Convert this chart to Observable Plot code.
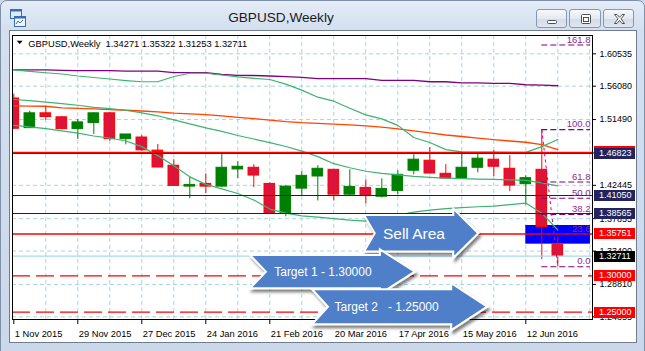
<!DOCTYPE html>
<html><head><meta charset="utf-8">
<script src="https://cdn.jsdelivr.net/npm/d3@7"></script>
<script src="https://cdn.jsdelivr.net/npm/@observablehq/plot@0.6"></script>
<style>
html,body{margin:0;padding:0}
body{width:645px;height:351px;overflow:hidden;position:relative;background:#cbd9ea;font-family:"Liberation Sans",Arial,sans-serif}
#win{position:absolute;left:0;top:0;width:643px;height:352px;border:1px solid #7f90a8;border-radius:7px 7px 0 0;background:linear-gradient(to bottom,#e4ecf7 0px,#d4e0ef 28px,#cad8ea 100%)}
#icon{position:absolute;left:10px;top:9px}
#title{position:absolute;left:0;top:9px;width:562px;text-align:center;font-size:13.6px;color:#1b1b1b;line-height:18px}
.btn{position:absolute;top:9px;height:19px;border:1px solid #8797ad;border-radius:3px;background:linear-gradient(#f7f9fc,#e3e9f1 50%,#d3dce8 51%,#dfe6ef);box-sizing:border-box}
.btn svg{position:absolute;left:0;top:0}
#client{position:absolute;left:9px;top:30px;width:628px;height:313px;border:1px solid #6f7d8f;background:#fff;box-sizing:border-box}
#chart{position:absolute;left:10px;top:31px;width:627px;height:312px}
#chart svg{max-width:none}
.pbox{position:absolute;left:594px;width:41px;height:11px;line-height:11px;color:#fff;font-size:9px;font-family:"Liberation Sans",Arial,sans-serif;padding-left:5px;box-sizing:border-box;white-space:nowrap;overflow:hidden}
</style></head><body>
<div id="win"></div>
<svg id="icon" width="16" height="18" viewBox="0 0 16 18">
  <rect x="0.5" y="0.5" width="11" height="9" fill="#dfeaf7" stroke="#3c6cb4"/>
  <rect x="0.5" y="0.5" width="11" height="2" fill="#3c6cb4"/>
  <rect x="4.5" y="7.5" width="11" height="10" fill="#eef4fb" stroke="#3c6cb4"/>
  <rect x="4.5" y="7.5" width="11" height="2" fill="#3c6cb4"/>
  <path d="M6 15 L8 12 L10 14 L13 11" stroke="#3c6cb4" fill="none"/>
</svg>
<div id="title">GBPUSD,Weekly</div>
<div class="btn" style="left:536px;width:31px"><svg width="31" height="19"><rect x="10.5" y="10.5" width="9" height="3" rx="1" fill="#fff" stroke="#4a4f57"/></svg></div>
<div class="btn" style="left:569px;width:32px"><svg width="32" height="19"><rect x="11.5" y="4.5" width="9" height="9" rx="1" fill="#fff" stroke="#4a4f57"/><rect x="13.5" y="7.5" width="5" height="4" fill="none" stroke="#4a4f57"/></svg></div>
<div class="btn" style="left:603px;width:31px"><svg width="31" height="19"><path d="M10.5 4.5 L13 4.5 L15.5 7.3 L18 4.5 L20.5 4.5 L17 8.8 L20.5 13.5 L18 13.5 L15.5 10.5 L13 13.5 L10.5 13.5 L14 8.8 Z" fill="#fff" stroke="#4a4f57"/></svg></div>
<div id="client"></div>
<div id="chart"></div>
<script>
// ---------------- data ----------------
const symbolName = "GBPUSD,Weekly";
const firstBarDate = "1 Nov 2015";
const opens  = [1.5439,1.5031,1.5235,1.5180,1.5018,1.5101,1.5235,1.4879,1.4902,1.4722,1.4514,1.4227,1.4264,1.4227,1.4463,1.4486,1.4264,1.3853,1.4199,1.4366,1.4458,1.4116,1.4209,1.4088,1.4167,1.4445,1.4583,1.4403,1.4338,1.4486,1.4597,1.4472,1.4260,1.4458,1.34271];
const highs  = [1.5499,1.5263,1.5323,1.5194,1.5152,1.5240,1.5240,1.4944,1.4930,1.4805,1.4597,1.4361,1.4403,1.4676,1.4569,1.4528,1.4278,1.4236,1.4431,1.4514,1.4462,1.4458,1.4320,1.4334,1.4445,1.4667,1.4764,1.4528,1.4680,1.4680,1.4722,1.4653,1.4375,1.5010,1.35322];
const lows   = [1.5013,1.5025,1.5138,1.5010,1.4875,1.4944,1.4851,1.4801,1.4715,1.4485,1.4230,1.4060,1.4130,1.4213,1.4338,1.4213,1.3845,1.3811,1.4098,1.4029,1.4029,1.4098,1.3991,1.4070,1.4112,1.4389,1.4400,1.4334,1.4324,1.4417,1.4365,1.4158,1.3973,1.3220,1.31253];
const closes = [1.5023,1.5235,1.5184,1.5018,1.5110,1.5235,1.4879,1.4944,1.4726,1.4490,1.4237,1.4250,1.4227,1.4486,1.4500,1.4379,1.3852,1.4227,1.4375,1.4472,1.4116,1.4223,1.4102,1.4195,1.4389,1.4597,1.4407,1.4338,1.4486,1.4611,1.4500,1.4241,1.4343,1.3672,1.32711];

const maSlow   = [1.5832,1.5832,1.5832,1.5825,1.5822,1.5822,1.5822,1.5814,1.5814,1.5814,1.5794,1.5794,1.5794,1.5769,1.5758,1.5755,1.5748,1.5739,1.5730,1.5711,1.5711,1.5711,1.5711,1.5689,1.5689,1.5689,1.5669,1.5669,1.5655,1.5655,1.5647,1.5647,1.5628,1.5624,1.5614];
const maMedium = [1.5336,1.5335,1.5332,1.5311,1.5304,1.5295,1.5286,1.5277,1.5267,1.5256,1.5239,1.5228,1.5217,1.5200,1.5180,1.5162,1.5142,1.5121,1.5106,1.5096,1.5087,1.5076,1.5062,1.5045,1.5020,1.4993,1.4965,1.4937,1.4916,1.4893,1.4874,1.4854,1.4837,1.4805,1.4736];
const bandUpper = [1.5832,1.5811,1.5793,1.5776,1.5748,1.5728,1.5707,1.5686,1.5669,1.5669,1.5741,1.5786,1.5786,1.5762,1.5735,1.5716,1.5700,1.5637,1.5554,1.5457,1.5402,1.5305,1.5214,1.5159,1.5069,1.4902,1.4833,1.4736,1.4704,1.4701,1.4701,1.4698,1.4698,1.4777,1.4874];
const bandMiddle = [1.5425,1.5409,1.5389,1.5367,1.5346,1.5318,1.5300,1.5277,1.5242,1.5201,1.5145,1.5090,1.5034,1.4986,1.4930,1.4882,1.4833,1.4778,1.4715,1.4639,1.4542,1.4486,1.4438,1.4410,1.4389,1.4368,1.4354,1.4343,1.4336,1.4331,1.4327,1.4320,1.4313,1.4278,1.4237];
const bandLower = [1.5069,1.5048,1.5024,1.4993,1.4963,1.4923,1.4895,1.4854,1.4777,1.4653,1.4514,1.4361,1.4257,1.4195,1.4132,1.4042,1.3918,1.3862,1.3825,1.3807,1.3786,1.3765,1.3751,1.3793,1.3834,1.3876,1.3904,1.3925,1.3938,1.3950,1.3959,1.3980,1.4001,1.3862,1.3630];

const dateLabels = ["1 Nov 2015","29 Nov 2015","27 Dec 2015","24 Jan 2016","21 Feb 2016","20 Mar 2016","17 Apr 2016","15 May 2016","12 Jun 2016"];
const priceTicks = [1.60535,1.56080,1.51490,1.46900,1.42445,1.37855,1.33400,1.28810,1.24355];

const levelPrices = [1.46970,1.46823,1.41050,1.38565,1.35751,1.32711,1.30000,1.25000];
const levelKinds  = ["sell","resist","resist","resist","sell","bid","target","target"];

const fibZero = 1.31253, fibHundred = 1.5010;
const fibRatios = [0,0.236,0.382,0.5,0.618,1,1.618];
const fibFromBar = 33, fibToBar = 34;

const sellZoneLow = 1.3435, sellZoneHigh = 1.3692, sellZoneFromBar = 32;

const arrowTexts  = ["Sell Area","Target 1 - 1.30000","Target 2   - 1.25000"];
const arrowPrices = [1.3578,1.3050,1.2568];
const arrowFromBar = [21.92,14.79,18.67];
const arrowToBar   = [29.06,25.10,29.62];

// ---------------- derived tables ----------------
const parseDay = d3.utcParse("%d %b %Y");
const week = 7*24*3600*1000;
const barOf = s => (parseDay(s) - parseDay(firstBarDate)) / week;
const bars = opens.map((o,i)=>({i, open:o, high:highs[i], low:lows[i], close:closes[i], up: closes[i] >= o}));
const series = (arr) => arr.map((v,i)=>({i, v}));
const levels = levelPrices.map((p,i)=>({price:p, kind:levelKinds[i],
  covered: levelPrices.some((q,j)=> j>i && Math.abs(q-p) < 0.0025)}));
const fibs = fibRatios.map(r=>({r, price: fibZero + r*(fibHundred-fibZero)}));
const lastBar = bars[bars.length-1];
const header = `${symbolName}  ${[lastBar.open,lastBar.high,lastBar.low,lastBar.close].map(v=>v.toFixed(5)).join(" ")}`;

// ---------------- styles ----------------
const levelStyle = {
  resist:{line:"#1b1b5c", box:"#23235f", w:1.1},
  sell:{line:"#ff0000", box:"#ff0000", w:1.5},
  bid:{line:"#a9dbe4", box:"#000000", w:1.1},
  target:{line:"#ff0000", box:"#ff0000", w:1.3, dash:"18,6"}
};
const FONT = "Liberation Sans, Arial, sans-serif";
const W = 627, H = 312, mL = 2, mR = 45, mT = 4, mB = 24;
const OX = 10, OY = 31; // chart origin inside the window
const xDomain = [-0.08125, 36.16875];
const yDomain = [1.23989, 1.63054];
const rightEdgeBar = 36.04;
const NS = "http://www.w3.org/2000/svg";
function el(tag, attrs){const e=document.createElementNS(NS,tag);for(const k in attrs)e.setAttribute(k,attrs[k]);return e;}

function headerMark(index, scales, values, dims){
  const g = el("g",{});
  const tri = el("path",{d:`M${dims.marginLeft+4.7},${dims.marginTop+5.8} h6 l-3,3.2 z`, fill:"#000"});
  g.append(tri);
  const t = el("text",{x:dims.marginLeft+16.3, y:dims.marginTop+11.6, fill:"#000","text-anchor":"start",
    "font-size":"9.3px","font-family":FONT, style:"white-space:pre"});
  t.textContent = header;
  g.append(t);
  return g;
}

const arrowShape = [
  {hb:18.3, hh:24.7, hl:25, n:10.7, fs:15.5, tdx:0},
  {hb:16.7, hh:22.3, hl:35, n:16, fs:12, tdx:0},
  {hb:17.5, hh:23.5, hl:36, n:16, fs:12, tdx:-3}
];
function arrows(index, scales, values, dims){
  const g = el("g",{});
  const defs = el("defs",{});
  const f = el("filter",{id:"ash", x:"-20%", y:"-30%", width:"140%", height:"170%"});
  f.append(el("feDropShadow",{dx:2, dy:3, stdDeviation:1.6, "flood-color":"#000", "flood-opacity":0.5}));
  defs.append(f); g.append(defs);
  arrowTexts.forEach((txt,k)=>{
    const s = arrowShape[k];
    const x0 = scales.x(arrowFromBar[k]), xt = scales.x(arrowToBar[k]), yc = scales.y(arrowPrices[k]);
    const xb = xt - s.hl;
    const pts = [[x0,yc-s.hb],[xb,yc-s.hb],[xb,yc-s.hh],[xt,yc],[xb,yc+s.hh],[xb,yc+s.hb],[x0,yc+s.hb],[x0+s.n,yc]];
    g.append(el("polygon",{points:pts.map(p=>p.join(",")).join(" "), fill:"#4f7fc8", stroke:"#fff","stroke-width":2,"stroke-linejoin":"miter", filter:"url(#ash)"}));
    const t = el("text",{x:(x0+s.n+xb)/2 + s.tdx, y:yc, dy:"0.35em","text-anchor":"middle", fill:"#fff","font-size":s.fs+"px","font-family":FONT, style:"white-space:pre"});
    t.textContent = txt;
    g.append(t);
  });
  return g;
}

const chart = Plot.plot({
  width: W, height: H,
  marginLeft: mL, marginRight: mR, marginTop: mT, marginBottom: mB,
  style: {background:"transparent", fontFamily: FONT, overflow:"visible"},
  x: {type:"linear", domain: xDomain, axis: null},
  y: {type:"linear", domain: yDomain, axis: null},
  marks: [
    // grid
    Plot.ruleX(d3.range(2, 37, 2), {stroke:"#a9d5de", strokeDasharray:"4,3", strokeWidth:1}),
    Plot.ruleY(priceTicks, {stroke:"#a9d5de", strokeDasharray:"4,3", strokeWidth:1}),
    // sell zone
    Plot.rect([{a:sellZoneFromBar, b:rightEdgeBar, lo:sellZoneLow, hi:sellZoneHigh}], {x1:"a", x2:"b", y1:"lo", y2:"hi", fill:"#0000ff"}),
    // candles
    Plot.ruleX(bars, {x:"i", y1:"low", y2:"high", stroke: d=> d.up ? "#008000" : "#ff0000", strokeWidth:1, clip:true}),
    Plot.rect(bars, {x1: d=>d.i-0.33, x2: d=>d.i+0.33, y1:"open", y2:"close", fill: d=> d.up ? "#008000" : "#dc143c", stroke: d=> d.up ? "#008000" : "#ff0000", strokeWidth:1, clip:true}),
    // indicators
    Plot.line(series(maSlow), {x:"i", y:"v", stroke:"#800080", strokeWidth:1.3}),
    Plot.line(series(maMedium), {x:"i", y:"v", stroke:"#ff4500", strokeWidth:1.3}),
    Plot.line(series(bandUpper), {x:"i", y:"v", stroke:"#3cb371", strokeWidth:1.2}),
    Plot.line(series(bandMiddle), {x:"i", y:"v", stroke:"#3cb371", strokeWidth:1.2}),
    Plot.line(series(bandLower), {x:"i", y:"v", stroke:"#3cb371", strokeWidth:1.2}),
    // horizontal levels
    ...Object.keys(levelStyle).map(k => Plot.ruleY(levels.filter(d=>d.kind===k), {y:"price", stroke:levelStyle[k].line, strokeWidth:levelStyle[k].w, strokeDasharray:levelStyle[k].dash})),
    // fibonacci
    Plot.ruleY(fibs, {y:"price", x1:fibFromBar, x2:rightEdgeBar, stroke:"#800080", strokeDasharray:"6,3", strokeWidth:1.1}),
    Plot.link([{a:fibFromBar, b:fibToBar, p:fibHundred, q:fibZero}], {x1:"a", x2:"b", y1:"p", y2:"q", stroke:"#cc0099", strokeDasharray:"3,3", strokeWidth:1}),
    Plot.text(fibs, {x:rightEdgeBar, y:"price", text: d=>(d.r*100).toFixed(1), textAnchor:"end", dy:-5.5, fill:"#8e2a8e", fontSize:9.5}),
    // frame and axes
    Plot.frame({stroke:"#000", strokeWidth:1}),
    Plot.ruleY(priceTicks, {insetLeft: W-mL-mR, insetRight:-4, stroke:"#000"}),
    Plot.text(priceTicks.filter(p => !levelPrices.some(q => Math.abs(q-p) < 0.001)), {y: d=>d, text: d=>d.toFixed(5), frameAnchor:"right", textAnchor:"start", dx:7, fontSize:9, fill:"#000"}),
    Plot.ruleX(dateLabels, {x: barOf, insetTop: H-mT-mB, insetBottom:-5, stroke:"#000"}),
    Plot.text(dateLabels, {x: barOf, text: d=>d, frameAnchor:"bottom", textAnchor:"start", dx:1, dy:17, fontSize:9.3, fill:"#000"}),
    headerMark,
    arrows
  ]
});
const holder = document.getElementById("chart");
holder.append(chart);

// price boxes on the right axis, placed with the chart's own y scale
const ys = chart.scale("y");
levels.forEach(L => {
  const st = levelStyle[L.kind];
  const d = document.createElement("div");
  d.className = "pbox";
  const yy = Math.round(ys.apply(L.price)) + OY - (L.covered ? 1 : 0);
  d.style.top = (yy - 5.5) + "px";
  d.style.background = st.box;
  d.textContent = L.covered ? "" : L.price.toFixed(5);
  document.body.append(d);
});
</script>
</body></html>
